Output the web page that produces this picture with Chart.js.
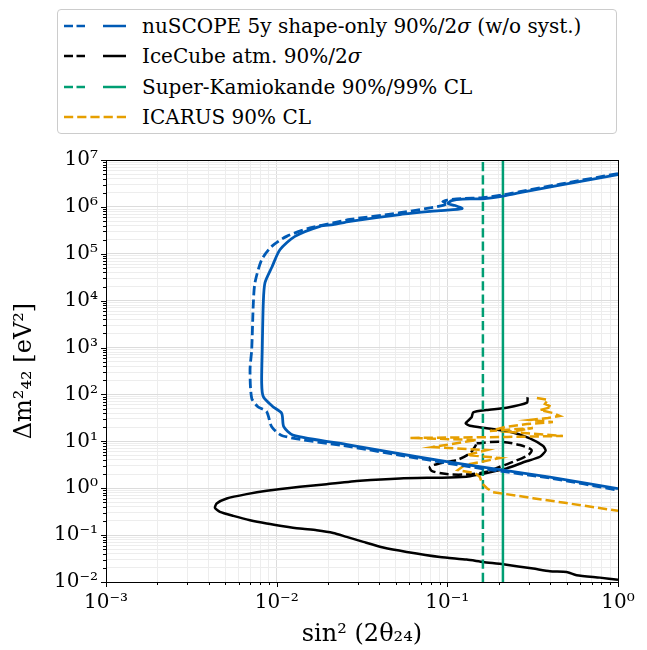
<!DOCTYPE html>
<html lang="en">
<head>
<meta charset="UTF-8">
<title>nuSCOPE sensitivity</title>
<script src="https://cdn.jsdelivr.net/npm/chart.js@4.4.0/dist/chart.umd.min.js"></script>
<style>
    html, body { margin: 0; padding: 0; background: #fff; }
    #wrap { position: relative; width: 647px; height: 650px; }
    #legend {
        position: absolute; left: 57px; top: 9px; width: 560px; height: 125px;
        border: 1px solid #ccc; border-radius: 4px; box-sizing: border-box; background: #fff;
        font-family: "DejaVu Serif", serif; font-size: 20px; color: #000;
    }
    .row { position: absolute; left: 0; width: 100%; height: 30px; line-height: 30px; white-space: nowrap; }
    .row svg { position: absolute; left: 6px; top: 10px; }
    .row span { position: absolute; left: 84px; }
</style>
</head>
<body>
<div id="wrap">
    <canvas id="chart" width="647" height="650"></canvas>
    <div id="legend">
        <div class="row" style="top:1px">
            <svg width="64" height="10"><line x1="0" y1="5" x2="21" y2="5" stroke="#005AB5" stroke-width="2.5" stroke-dasharray="9 3.5"/><line x1="39" y1="5" x2="62" y2="5" stroke="#005AB5" stroke-width="2.5"/></svg>
            <span>nuSCOPE 5y shape-only 90%/2<i>σ</i> (w/o syst.)</span>
        </div>
        <div class="row" style="top:31px">
            <svg width="64" height="10"><line x1="0" y1="5" x2="21" y2="5" stroke="#000" stroke-width="2.5" stroke-dasharray="9 3.5"/><line x1="39" y1="5" x2="62" y2="5" stroke="#000" stroke-width="2.5"/></svg>
            <span>IceCube atm. 90%/2<i>σ</i></span>
        </div>
        <div class="row" style="top:62px">
            <svg width="64" height="10"><line x1="0" y1="5" x2="21" y2="5" stroke="#009E73" stroke-width="2.5" stroke-dasharray="9 3.5"/><line x1="39" y1="5" x2="62" y2="5" stroke="#009E73" stroke-width="2.5"/></svg>
            <span>Super-Kamiokande 90%/99% CL</span>
        </div>
        <div class="row" style="top:92px">
            <svg width="64" height="10"><line x1="0" y1="5" x2="62" y2="5" stroke="#E69F00" stroke-width="2.5" stroke-dasharray="9.2 4"/></svg>
            <span>ICARUS 90% CL</span>
        </div>
    </div>
</div>

<script>
    // axes
    const xTickValues = [0.001, 0.01, 0.1, 1];
    const xTickLabels = ['10⁻³', '10⁻²', '10⁻¹', '10⁰'];
    const yTickValues = [1e-2, 1e-1, 1, 10, 100, 1e3, 1e4, 1e5, 1e6, 1e7];
    const yTickLabels = ['10⁻²', '10⁻¹', '10⁰', '10¹', '10²', '10³', '10⁴', '10⁵', '10⁶', '10⁷'];
    const minorSteps = [2, 3, 4, 5, 6, 7, 8, 9];

    // nuSCOPE 5y shape-only, 2 sigma (solid) and 90% (dashed)
    const nuscope2sX = [1.0, 0.457, 0.266, 0.242, 0.212, 0.162, 0.123, 0.106, 0.1008, 0.111, 0.122, 0.0905, 0.0528, 0.0269, 0.0214, 0.01794, 0.0128, 0.01045, 0.0094, 0.00854, 0.00835, 0.00823, 0.00817, 0.00835, 0.00951, 0.0107, 0.0110, 0.01246, 0.0269, 0.0661, 0.1616, 0.399, 1.0];
    const nuscope2sY = [4.9e6, 2.9e6, 2.02e6, 1.88e6, 1.69e6, 1.49e6, 1.47e6, 1.36e6, 1.18e6, 1.07e6, 9.2e5, 8.34e5, 6.85e5, 4.92e5, 4.19e5, 3.85e5, 2.35e5, 1.22e5, 5.3e4, 2.41e4, 9.0e3, 894, 176, 89.7, 54.8, 39.6, 20.5, 13.6, 8.34, 4.69, 2.82, 1.73, 0.98];
    const nuscope90X = [1.0, 0.457, 0.266, 0.242, 0.212, 0.162, 0.12, 0.1, 0.094, 0.1008, 0.093, 0.0528, 0.0269, 0.0214, 0.01567, 0.01144, 0.00935, 0.00817, 0.00746, 0.0073, 0.00714, 0.00698, 0.00714, 0.00776, 0.00874, 0.00935, 0.0109, 0.0269, 0.0661, 0.1616, 0.399, 1.0];
    const nuscope90Y = [5.15e6, 3.05e6, 2.12e6, 1.97e6, 1.8e6, 1.58e6, 1.5e6, 1.4e6, 1.3e6, 1.2e6, 1.06e6, 7.5e5, 5.4e5, 4.55e5, 3.56e5, 2.35e5, 1.44e5, 7.48e4, 2.4e4, 9.0e3, 894, 334, 83, 54.8, 42.9, 20.5, 13.0, 7.7, 4.4, 2.6, 1.65, 0.91];

    // IceCube atmospheric
    const icecube2sX = [0.2954, 0.2931, 0.2225, 0.1700, 0.1418, 0.1388, 0.1280, 0.1357, 0.1700, 0.2326, 0.3047, 0.3645, 0.3765, 0.3487, 0.2848, 0.2225, 0.1777, 0.1357, 0.1035, 0.0528, 0.0308, 0.01963, 0.01369, 0.00874, 0.00667, 0.00510, 0.00445, 0.00435, 0.00465, 0.00557, 0.00698, 0.00874, 0.01093, 0.01369, 0.01715, 0.02146, 0.0257, 0.0322, 0.0421, 0.0578, 0.0905, 0.1297, 0.1623, 0.2126, 0.3186, 0.3992, 0.5000, 0.5723, 0.7834, 1.0];
    const icecube2sY = [87.1, 66.8, 52.2, 46.6, 41.7, 32.6, 24.2, 21.5, 19.0, 16.0, 11.6, 7.94, 6.30, 4.69, 3.66, 2.65, 2.18, 1.81, 1.70, 1.62, 1.44, 1.22, 1.07, 0.880, 0.748, 0.605, 0.473, 0.381, 0.313, 0.257, 0.208, 0.177, 0.155, 0.138, 0.127, 0.1114, 0.0915, 0.0716, 0.0543, 0.0438, 0.0342, 0.0301, 0.0268, 0.0239, 0.0193, 0.0169, 0.0164, 0.0139, 0.0124, 0.0112];
    const icecube90X = [0.1485, 0.2033, 0.2662, 0.3118, 0.2979, 0.2432, 0.2033, 0.1700, 0.1297, 0.0991, 0.0809, 0.0791, 0.0905, 0.1134, 0.1357, 0.1451, 0.1485];
    const icecube90Y = [9.06, 9.81, 8.34, 6.52, 5.10, 3.66, 2.87, 2.24, 1.97, 2.00, 2.35, 2.87, 3.39, 3.98, 5.54, 7.67, 9.06];

    // Super-Kamiokande (vertical limits)
    const sk90X = [0.1616, 0.1616];
    const sk99X = [0.2117, 0.2117];
    const skY = [1e-2, 1e7];

    // ICARUS 90% CL
    const icarusX = [0.3348, 0.3886, 0.373, 0.4101, 0.3487, 0.4156, 0.4567, 0.3886, 0.3047, 0.4156, 0.2926, 0.2175, 0.1777, 0.3173, 0.2326, 0.4756, 0.2234, 0.0604, 0.1491, 0.0823, 0.1706, 0.1302, 0.2033, 0.1268, 0.1154, 0.1451, 0.1552, 0.1595, 0.1706, 0.185, 0.3173, 0.4887, 1.0];
    const icarusY = [84.2, 76.3, 62.7, 54.1, 46.6, 40.2, 34.7, 31.5, 28.5, 25.8, 23.4, 20.2, 16.6, 19.2, 15.8, 13.0, 12.4, 11.8, 10.7, 7.55, 6.52, 5.10, 4.40, 3.12, 2.44, 2.10, 1.73, 1.285, 1.0, 0.825, 0.614, 0.488, 0.329];

    const BLUE = '#005AB5', GREEN = '#009E73', ORANGE = '#E69F00';
    const DASH = [9.25, 4];
    const SERIF = '"DejaVu Serif", serif';

    function isDecade(v) {
        const e = Math.log10(v);
        return Math.abs(e - Math.round(e)) < 1e-9;
    }

    function withMinor(decades) {
        const out = [];
        decades.forEach((d, i) => {
            out.push({ value: d });
            if (i < decades.length - 1) minorSteps.forEach(m => out.push({ value: d * m }));
        });
        return out;
    }

    function labelFor(values, labels, v) {
        const i = values.findIndex(t => Math.abs(t - v) / t < 1e-9);
        return i >= 0 ? labels[i] : '';
    }

    function curve(label, xs, ys, color, dashed, order, width, tension) {
        return {
            label: label,
            data: xs.map((x, i) => ({ x: x, y: ys[i] })),
            borderColor: color,
            borderWidth: width || 2.5,
            borderDash: dashed ? DASH : [],
            showLine: true,
            pointRadius: 0,
            tension: tension || 0,
            fill: false,
            order: order
        };
    }

    // frame + tick marks, matplotlib style
    const framePlugin = {
        id: 'frame',
        afterDraw(chart) {
            const { ctx, chartArea: a, scales } = chart;
            ctx.save();
            ctx.strokeStyle = '#000';
            ctx.lineWidth = 1;
            scales.x.ticks.forEach(t => {
                const px = Math.round(scales.x.getPixelForValue(t.value)) + 0.5;
                const len = isDecade(t.value) ? 5 : 3;
                ctx.beginPath(); ctx.moveTo(px, a.bottom); ctx.lineTo(px, a.bottom + len); ctx.stroke();
            });
            scales.y.ticks.forEach(t => {
                const py = Math.round(scales.y.getPixelForValue(t.value)) + 0.5;
                const len = isDecade(t.value) ? 5 : 3;
                ctx.beginPath(); ctx.moveTo(a.left, py); ctx.lineTo(a.left - len, py); ctx.stroke();
            });
            ctx.strokeRect(Math.round(a.left) + 0.5, Math.round(a.top) + 0.5,
                Math.round(a.right - a.left), Math.round(a.bottom - a.top));
            ctx.restore();
        }
    };

    const gridColor = c => isDecade(c.tick.value) ? '#dcdcdc' : '#ededed';

    new Chart(document.getElementById('chart'), {
        type: 'scatter',
        data: {
            datasets: [
                curve('nuSCOPE 90%', nuscope90X, nuscope90Y, BLUE, true, 0, 2.8, 0.25),
                curve('nuSCOPE 2σ', nuscope2sX, nuscope2sY, BLUE, false, 0, 2.8, 0.25),
                curve('ICARUS 90% CL', icarusX, icarusY, ORANGE, true, 1),
                curve('SK 90%', sk90X, skY, GREEN, true, 2),
                curve('SK 99%', sk99X, skY, GREEN, false, 2),
                curve('IceCube 90%', icecube90X, icecube90Y, '#000', true, 3, 2.5, 0.3),
                curve('IceCube 2σ', icecube2sX, icecube2sY, '#000', false, 3, 2.5, 0.2)
            ]
        },
        options: {
            responsive: false,
            animation: false,
            devicePixelRatio: 1,
            layout: { padding: { top: 160, right: 29, left: 0, bottom: 0 } },
            plugins: { legend: { display: false }, tooltip: { enabled: false } },
            scales: {
                x: {
                    type: 'logarithmic',
                    min: 1e-3,
                    max: 1,
                    afterBuildTicks: s => { s.ticks = withMinor(xTickValues); },
                    afterFit: s => { s.height = 68; },
                    border: { display: false },
                    grid: { drawTicks: false, color: gridColor, lineWidth: 1 },
                    ticks: {
                        autoSkip: false, maxRotation: 0, padding: 9, color: '#000',
                        font: { family: SERIF, size: 20 },
                        callback: v => labelFor(xTickValues, xTickLabels, v)
                    },
                    title: {
                        display: true, text: 'sin² (2θ₂₄)', color: '#000',
                        font: { family: SERIF, size: 24 },
                        padding: { top: 0, bottom: 1 }
                    }
                },
                y: {
                    type: 'logarithmic',
                    min: 1e-2,
                    max: 1e7,
                    afterBuildTicks: s => { s.ticks = withMinor(yTickValues); },
                    afterFit: s => { s.width = 106; },
                    border: { display: false },
                    grid: { drawTicks: false, color: gridColor, lineWidth: 1 },
                    ticks: {
                        autoSkip: false, padding: 8, color: '#000',
                        font: { family: SERIF, size: 20 },
                        callback: v => labelFor(yTickValues, yTickLabels, v)
                    },
                    title: {
                        display: true, text: 'Δm²₄₂ [eV²]', color: '#000',
                        font: { family: SERIF, size: 24 },
                        padding: { top: 10, bottom: 0 }
                    }
                }
            }
        },
        plugins: [framePlugin]
    });
</script>
</body>
</html>
